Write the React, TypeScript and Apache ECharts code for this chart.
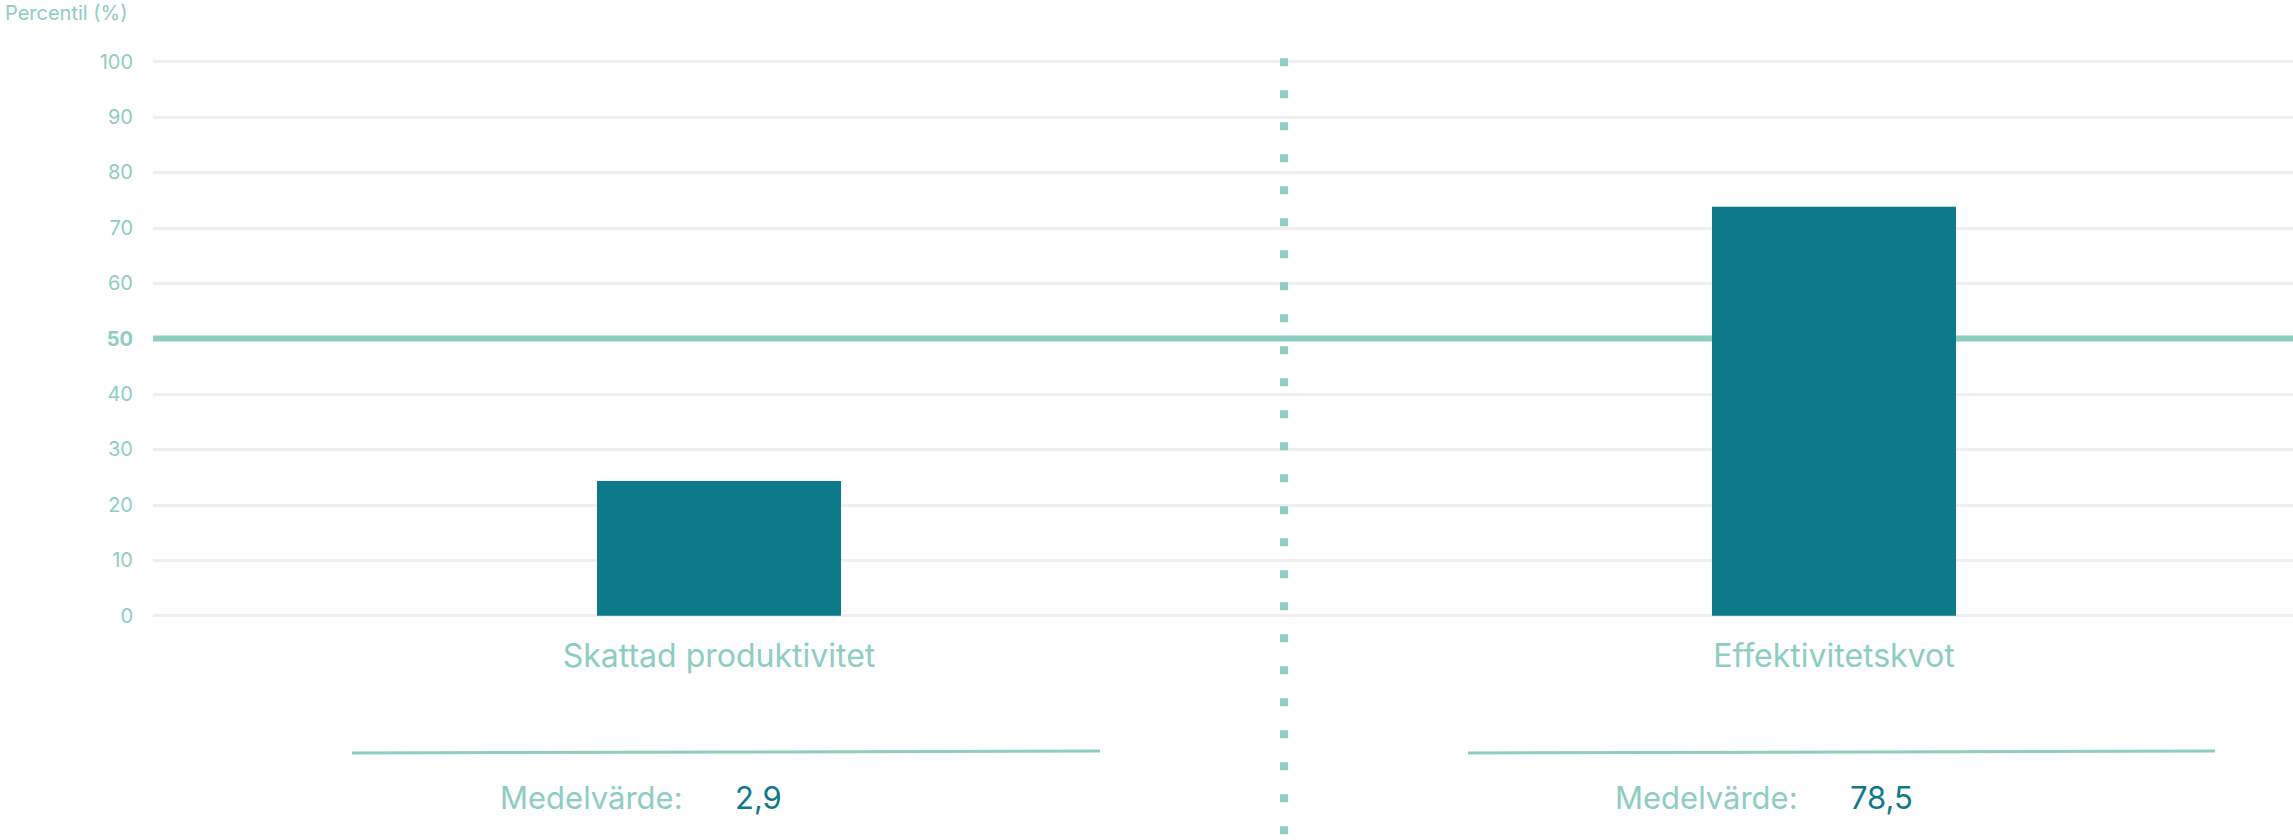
import React, { useEffect, useRef } from "react";
import * as echarts from "echarts";

const CATEGORIES = ["Skattad produktivitet", "Effektivitetskvot"];
const PERCENTILES = [24.3, 73.8];
const MEANS = ["2,9", "78,5"];
const MEAN_LABEL = "Medelvärde:";
const Y_TITLE = "Percentil (%)";
const MEDIAN = 50;
const Y_MIN = 0;
const Y_MAX = 100;
const Y_STEP = 10;

const LIGHT = "#8ecdc2";
const DARK = "#0c7a8a";
const GRID = "#efefef";
const FONT = "Inter, 'Noto Sans', sans-serif";

const VIEW_W = 2293;
const CHART_W = 2392;
const H = 840;

export default function App() {
  const ref = useRef<HTMLDivElement>(null);
  useEffect(() => {
    if (!ref.current) return;
    const chart = echarts.init(ref.current, undefined, { renderer: "svg" });
    const top = 61.5;
    const bottom = H - 615.7;
    chart.setOption({
      animation: false,
      backgroundColor: "#ffffff",
      textStyle: { fontFamily: FONT },
      grid: [
        { left: 153, right: CHART_W - VIEW_W, top, bottom },
        { left: 161.5, right: 0.5, top, bottom },
      ],
      xAxis: [
        { gridIndex: 0, type: "value", min: 0, max: 1, show: false },
        {
          gridIndex: 1,
          type: "category",
          data: CATEGORIES,
          axisLine: { show: false },
          axisTick: { show: false },
          splitLine: { show: false },
          axisLabel: { color: LIGHT, fontSize: 32, margin: 24, fontFamily: FONT },
        },
      ],
      yAxis: [
        {
          gridIndex: 0,
          type: "value",
          min: Y_MIN,
          max: Y_MAX,
          interval: Y_STEP,
          axisLine: { show: false },
          axisTick: { show: false },
          splitLine: { show: true, lineStyle: { color: GRID, width: 3 } },
          axisLabel: {
            color: LIGHT,
            fontSize: 20,
            margin: 20,
            fontFamily: FONT,
            formatter: (v: number) => (v === MEDIAN ? `{b|${v}}` : `${v}`),
            rich: { b: { fontWeight: "bold", fontSize: 20, color: LIGHT, fontFamily: FONT } },
          },
        },
        { gridIndex: 1, type: "value", min: Y_MIN, max: Y_MAX, show: false },
      ],
      series: [
        {
          type: "line",
          xAxisIndex: 0,
          yAxisIndex: 0,
          data: [
            [0, MEDIAN],
            [1, MEDIAN],
          ],
          symbol: "none",
          lineStyle: { color: LIGHT, width: 6 },
          z: 1,
          silent: true,
        },
        {
          type: "bar",
          xAxisIndex: 1,
          yAxisIndex: 1,
          data: PERCENTILES,
          barWidth: 244,
          itemStyle: { color: DARK },
          z: 3,
        },
      ],
      graphic: [
        {
          type: "text",
          left: 5,
          top: 3,
          style: { text: Y_TITLE, fill: LIGHT, font: `20px ${FONT}` },
        },
        {
          type: "line",
          shape: { x1: 1284, y1: 58.3, x2: 1284, y2: 840 },
          style: { stroke: LIGHT, lineWidth: 8, lineDash: [8, 24] },
          z: 5,
        },
        {
          type: "line",
          shape: { x1: 352, y1: 753, x2: 1100, y2: 751 },
          style: { stroke: LIGHT, lineWidth: 3 },
        },
        {
          type: "line",
          shape: { x1: 1468, y1: 753, x2: 2215, y2: 751 },
          style: { stroke: LIGHT, lineWidth: 3 },
        },
        {
          type: "text",
          x: 500,
          y: 797,
          style: { text: MEAN_LABEL, fill: LIGHT, font: `31px ${FONT}`, verticalAlign: "middle" },
        },
        {
          type: "text",
          x: 735,
          y: 797,
          style: { text: MEANS[0], fill: DARK, font: `31px ${FONT}`, verticalAlign: "middle" },
        },
        {
          type: "text",
          x: 1615,
          y: 797,
          style: { text: MEAN_LABEL, fill: LIGHT, font: `31px ${FONT}`, verticalAlign: "middle" },
        },
        {
          type: "text",
          x: 1850,
          y: 797,
          style: { text: MEANS[1], fill: DARK, font: `31px ${FONT}`, verticalAlign: "middle" },
        },
      ],
    });
    return () => chart.dispose();
  }, []);
  return (
    <div
      style={{
        position: "fixed",
        left: 0,
        top: 0,
        width: VIEW_W,
        height: H,
        overflow: "hidden",
        background: "#fff",
      }}
    >
      <div ref={ref} style={{ width: CHART_W, height: H }} />
    </div>
  );
}
